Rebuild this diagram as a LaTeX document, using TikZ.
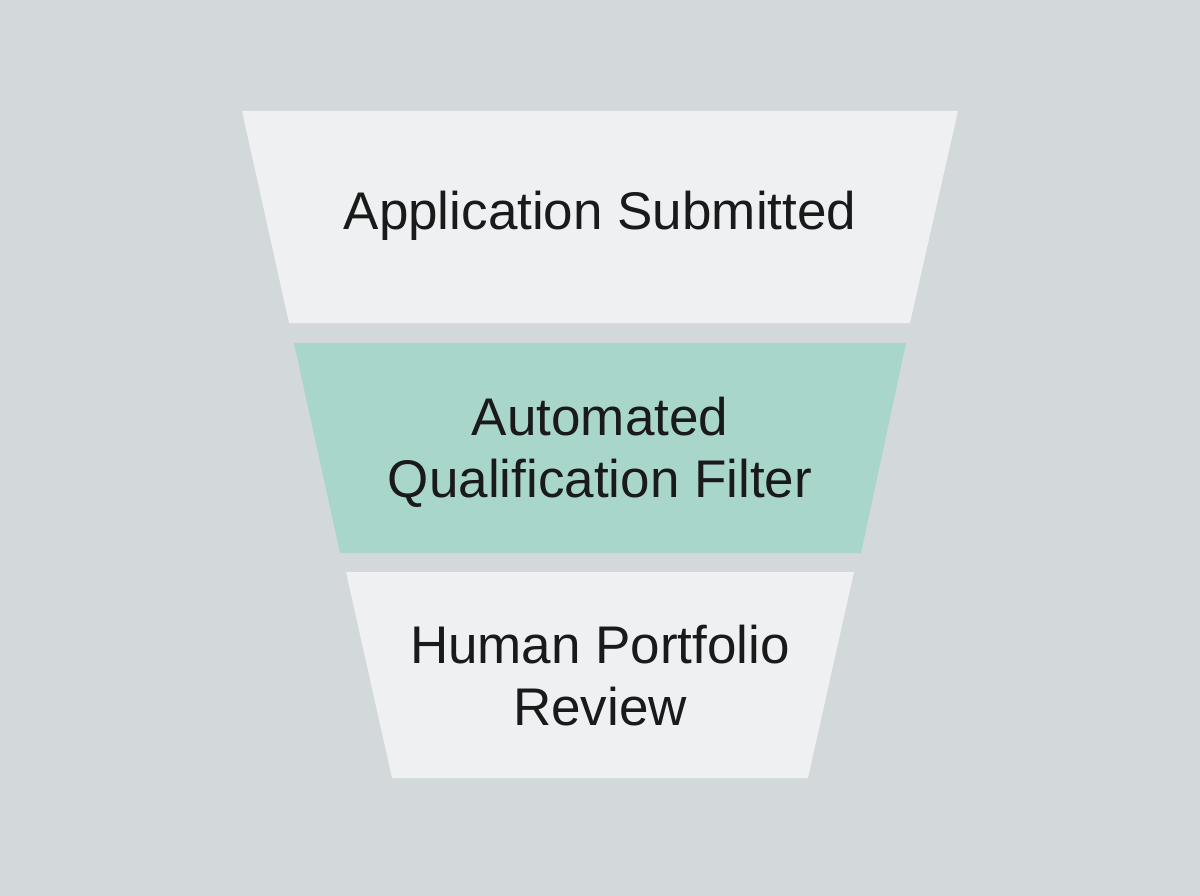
\documentclass[tikz,border=0pt]{standalone}
\usepackage{fontspec}
\setmainfont{Liberation Sans}
\definecolor{bg}{HTML}{D3D8DA}
\definecolor{pale}{HTML}{EEF0F1}
\definecolor{teal}{HTML}{A9D6CB}
\definecolor{ink}{HTML}{1A1A1A}
\begin{document}
\begin{tikzpicture}[x=1pt,y=-1pt,
  lbl/.style={text=ink,font=\fontsize{53}{62}\selectfont,align=center}]
\fill[bg] (0,0) rectangle (1200,896);
\useasboundingbox (0,0) rectangle (1200,896);
\fill[pale] (242,111) -- (958,111) -- (910,323) -- (289,323) -- cycle;
\fill[teal] (294,343) -- (906,343) -- (861,553) -- (340,553) -- cycle;
\fill[pale] (346,572) -- (854,572) -- (808,778) -- (392,778) -- cycle;
\node[lbl] (a) at (600,216) {Application Submitted};
\node[lbl] (b) at (600,452) {Automated\\Qualification Filter};
\node[lbl] (c) at (600,676) {Human Portfolio\\Review};
\end{tikzpicture}
\end{document}
